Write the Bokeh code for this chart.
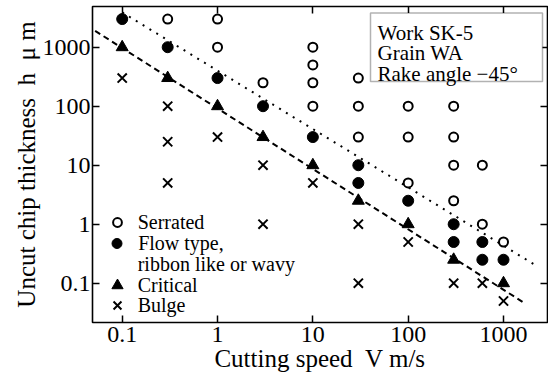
from bokeh.embed import file_html
from bokeh.models import (BasicTickFormatter, BoxAnnotation, FixedTicker, Label,
                          Legend, LegendItem, LogAxis)
from bokeh.plotting import figure
from bokeh.resources import INLINE

# ---- data: cutting speed V (m/s) and uncut chip thickness h (um) ----
serrated_v = [0.3, 1, 1, 3, 10, 10, 10, 10, 30, 30, 30, 100, 100, 100,
              300, 300, 300, 300, 600, 600, 1000]
serrated_h = [3000, 3000, 1000, 250, 1000, 500, 250, 100, 300, 100, 30, 100, 30, 5,
              100, 30, 10, 2.5, 10, 1, 0.5]

flow_v = [0.1, 0.3, 1, 3, 10, 30, 30, 100, 300, 300, 600, 600, 1000]
flow_h = [3000, 1000, 300, 100, 30, 10, 5, 2.5, 1, 0.5, 0.5, 0.25, 0.25]

critical_v = [0.1, 0.3, 1, 3, 10, 30, 100, 300, 1000]
critical_h = [1000, 300, 100, 30, 10, 2.5, 1, 0.25, 0.1]

bulge_v = [0.1, 0.3, 0.3, 0.3, 1, 3, 3, 10, 30, 30, 100, 300, 600, 1000]
bulge_h = [300, 100, 25, 5, 30, 10, 1, 5, 1, 0.1, 0.5, 0.1, 0.1, 0.05]

# boundary lines (end points)
upper_line_v = [0.1, 2300]
upper_line_h = [3900, 0.19]
lower_line_v = [0.052, 1630]
lower_line_h = [1890, 0.047]

tick_values = [0.1, 1, 10, 100, 1000]

legend_labels = ["Serrated", "Flow type,", "ribbon like or wavy", "Critical", "Bulge"]
note_lines = ["Work SK-5", "Grain WA", "Rake angle \u221245\u00b0"]
x_title = "Cutting speed\u2002V m/s"
y_title = "Uncut chip thickness\u2002h\u2002\u03bc m"

SERIF = "Liberation Serif"

# ---- figure ----
FL, FT, FR, FB = 92, 6, 547, 322          # plot frame edges on the canvas
p = figure(width=548, height=381, x_axis_type="log", y_axis_type="log",
           x_range=(0.0488, 2894), y_range=(0.0216, 4898),
           output_backend="svg", toolbar_location=None,
           min_border_left=FL, min_border_right=548 - FR,
           min_border_top=FT, min_border_bottom=381 - FB)
p.grid.visible = False
p.background_fill_color = "white"
p.border_fill_color = "white"
p.outline_line_color = "black"
p.outline_line_width = 1.6


def style_axis(ax, labels=True, standoff=2):
    ax.ticker = FixedTicker(ticks=tick_values)
    ax.formatter = BasicTickFormatter(use_scientific=False)
    ax.axis_line_color = None
    ax.major_tick_in = 7
    ax.major_tick_out = 0
    ax.major_tick_line_width = 1.5
    ax.major_tick_line_color = "black"
    ax.minor_tick_line_color = None
    if labels:
        ax.major_label_text_font = SERIF
        ax.major_label_text_font_size = "24px"
        ax.major_label_text_color = "black"
        ax.major_label_standoff = standoff
        ax.axis_label_text_font = SERIF
        ax.axis_label_text_font_size = "25px"
        ax.axis_label_text_font_style = "normal"
        ax.axis_label_text_color = "black"
        ax.axis_label_standoff = 0
    else:
        ax.major_label_text_font_size = "1px"
        ax.major_label_text_color = None
        ax.major_label_standoff = 0


style_axis(p.xaxis[0], standoff=4)
style_axis(p.yaxis[0], standoff=2)
p.xaxis[0].axis_label = x_title
p.yaxis[0].axis_label = y_title
top_axis = LogAxis()
right_axis = LogAxis()
style_axis(top_axis, labels=False)
style_axis(right_axis, labels=False)
p.add_layout(top_axis, "above")
p.add_layout(right_axis, "right")

# ---- boundary lines ----
p.line(upper_line_v, upper_line_h, line_color="black", line_width=2, line_dash="2 6")
p.line(lower_line_v, lower_line_h, line_color="black", line_width=2, line_dash="6 4")

# ---- chip types ----
r_ser = p.scatter(serrated_v, serrated_h, marker="circle", size=9,
                  fill_color="white", line_color="black", line_width=2)
r_flow = p.scatter(flow_v, flow_h, marker="circle", size=11,
                   fill_color="black", line_color="black")
r_crit = p.scatter(critical_v, critical_h, marker="triangle", size=12,
                   fill_color="black", line_color="black")
r_bulge = p.scatter(bulge_v, bulge_h, marker="x", size=13,
                    line_color="black", line_width=2)
r_blank = p.scatter([], [], marker="circle", fill_alpha=0, line_alpha=0)

# ---- key: one single-row legend per entry, so each row sits where it should ----
KEY_X, TEXT_X = 116.7, 138          # marker centre and label start (canvas px)
ROW_H = 28                          # glyph box height, same for every row
key_rows = [  # renderer, glyph box width (sets marker size), row centre (canvas px)
    (r_ser, 22, 222),
    (r_flow, 25, 243),
    (r_blank, 22, 264),
    (r_crit, 28, 285),
    (r_bulge, 30, 305),
]
for lab, (rend, g, yc) in zip(legend_labels, key_rows):
    p.add_layout(Legend(items=[LegendItem(label=lab, renderers=[rend])],
                        location=(KEY_X - FL - g / 2, FB - yc - ROW_H / 2),
                        glyph_width=g, glyph_height=ROW_H, label_height=20,
                        padding=0, margin=0, spacing=0,
                        label_standoff=int(round(TEXT_X - KEY_X - g / 2)),
                        label_text_font=SERIF, label_text_font_size="20px",
                        label_text_color="black",
                        background_fill_alpha=0, border_line_color=None),
                 "center")


def at(x, y):
    """Canvas pixel position -> frame-relative screen units."""
    return dict(x=x - FL, y=FB - y, x_units="screen", y_units="screen")


# ---- note box ----
p.add_layout(BoxAnnotation(left=370 - FL, right=542 - FL, top=FB - 12.5, bottom=FB - 81,
                           left_units="screen", right_units="screen",
                           top_units="screen", bottom_units="screen",
                           fill_color="white", fill_alpha=1,
                           line_color="black", line_width=1.5))
for i, txt in enumerate(note_lines):
    p.add_layout(Label(text=txt, text_font=SERIF, text_font_size="21px",
                       text_color="black",
                       text_align="left", text_baseline="alphabetic",
                       **at(377, 32 + 20.9 * i)))

open("out.html", "w").write(file_html(p, INLINE))
